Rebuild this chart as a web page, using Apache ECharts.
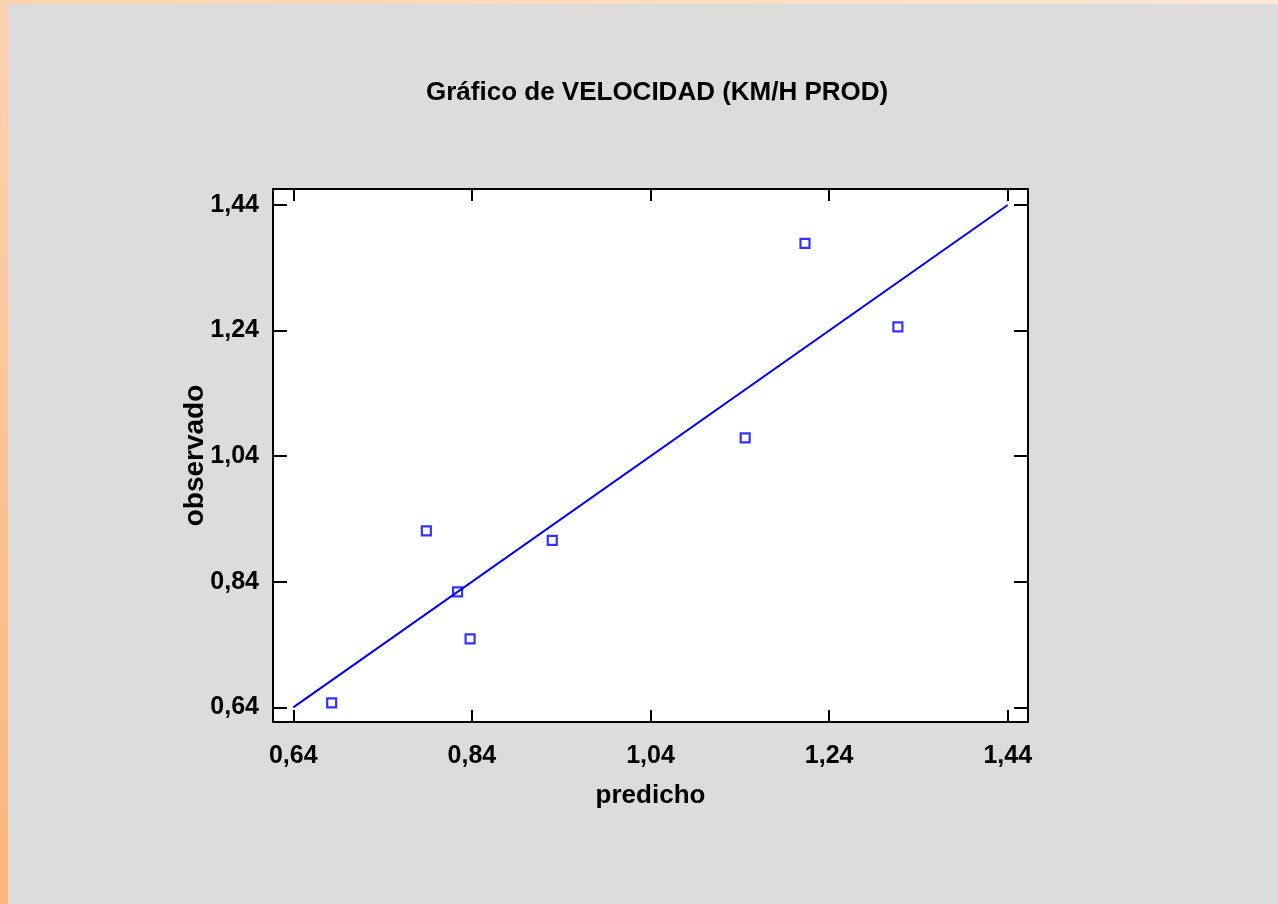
<!DOCTYPE html>
<html>
<head>
<meta charset="utf-8">
<script src="https://cdn.jsdelivr.net/npm/echarts@6/dist/echarts.min.js"></script>
<style>
html,body{margin:0;padding:0;width:1278px;height:904px;overflow:hidden;}
#c{width:1278px;height:904px;}
</style>
</head>
<body>
<div id="c"></div>
<script>
const titleText = 'Gráfico de VELOCIDAD (KM/H PROD)';
const xName = 'predicho';
const yName = 'observado';
const tickValues = [0.64, 0.84, 1.04, 1.24, 1.44];
const predicho = [0.683, 0.789, 0.824, 0.838, 0.930, 1.146, 1.213, 1.317];
const observado = [0.647, 0.921, 0.824, 0.749, 0.906, 1.069, 1.379, 1.246];
const lineX = [0.64, 1.44];
const lineY = [0.64, 1.44];

const fmt = v => v.toFixed(2).replace('.', ',');
const FONT = '"Liberation Sans", Arial, sans-serif';
const AXMIN = 0.6173, AXMAX = 1.4627;
const AYMIN = 0.6166, AYMAX = 1.4655;

function xAxisCfg(pos, show) {
  return {
    type: 'value', position: pos, min: AXMIN, max: AXMAX,
    name: show ? xName : '', nameLocation: 'middle', nameGap: 61, nameMoveOverlap: false,
    nameTextStyle: {fontFamily: FONT, fontWeight: 'bold', fontSize: 26, color: '#000'},
    axisLine: {show: false},
    splitLine: {show: false},
    axisTick: {show: true, inside: true, length: 12, customValues: tickValues, lineStyle: {color: '#000', width: 2}},
    axisLabel: {show: show, customValues: tickValues, formatter: fmt, margin: 22,
      fontFamily: FONT, fontWeight: 'bold', fontSize: 25, color: '#000'}
  };
}
function yAxisCfg(pos, show) {
  return {
    type: 'value', position: pos, min: AYMIN, max: AYMAX,
    name: show ? yName : '', nameLocation: 'middle', nameGap: 64, nameMoveOverlap: false,
    nameTextStyle: {fontFamily: FONT, fontWeight: 'bold', fontSize: 28, color: '#000'},
    axisLine: {show: false},
    splitLine: {show: false},
    axisTick: {show: true, inside: true, length: 14, customValues: tickValues, lineStyle: {color: '#000', width: 2}},
    axisLabel: {show: show, customValues: tickValues, formatter: fmt, margin: 14,
      fontFamily: FONT, fontWeight: 'bold', fontSize: 25, color: '#000'}
  };
}

const chart = echarts.init(document.getElementById('c'), null, {renderer: 'canvas'});
chart.setOption({
  animation: false,
  backgroundColor: '#DCDCDC',
  graphic: [
    {type: 'rect', z: -10, silent: true, shape: {x: 0, y: 0, width: 1278, height: 904},
      style: {fill: new echarts.graphic.LinearGradient(0, 0, 0, 1, [
        {offset: 0, color: '#FDD3AE'}, {offset: 1, color: '#FBB47C'}])}},
    {type: 'rect', z: -10, silent: true, shape: {x: 0, y: 0, width: 1278, height: 4},
      style: {fill: new echarts.graphic.LinearGradient(0, 0, 1, 0, [
        {offset: 0, color: '#FDD3AE'}, {offset: 1, color: '#FDE6D2'}])}},
    {type: 'rect', z: -9, silent: true, shape: {x: 8, y: 4, width: 1270, height: 900},
      style: {fill: '#DCDCDC'}}
  ],
  title: {
    text: titleText, left: 421, top: 75,
    textStyle: {fontFamily: FONT, fontWeight: 'bold', fontSize: 26, color: '#000'}
  },
  grid: {
    left: 273, top: 189, width: 755, height: 533,
    show: true, backgroundColor: '#FFFFFF', borderColor: '#000', borderWidth: 2
  },
  xAxis: [xAxisCfg('bottom', true), xAxisCfg('top', false)],
  yAxis: [yAxisCfg('left', true), yAxisCfg('right', false)],
  series: [
    {
      type: 'line', xAxisIndex: 0, yAxisIndex: 0,
      data: lineX.map((x, i) => [x, lineY[i]]),
      symbol: 'none', lineStyle: {color: '#0000FF', width: 2}, z: 2
    },
    {
      type: 'scatter', xAxisIndex: 0, yAxisIndex: 0,
      data: predicho.map((x, i) => [x, observado[i]]),
      symbol: 'rect', symbolSize: 9,
      itemStyle: {color: 'rgba(255,255,255,0)', borderColor: '#0000FF', borderWidth: 2.2}, z: 3
    }
  ]
});
</script>
</body>
</html>
